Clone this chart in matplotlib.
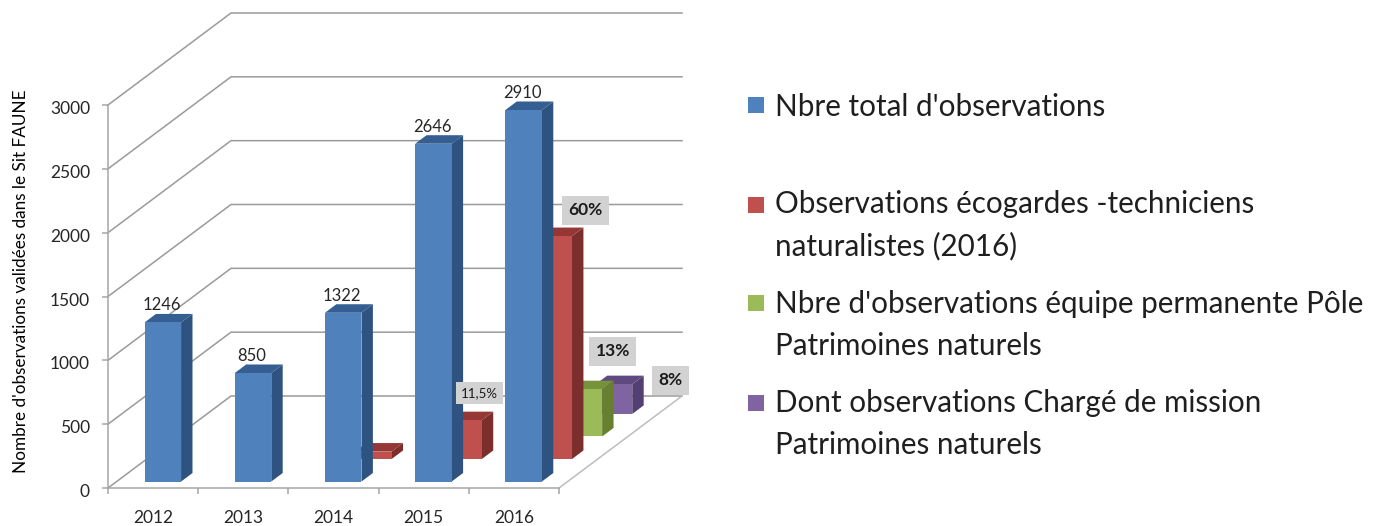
import matplotlib
matplotlib.use('Agg')
import matplotlib.pyplot as plt
from matplotlib.patches import Polygon, Rectangle
from matplotlib.transforms import ScaledTranslation

plt.rcParams['font.family'] = ['Lato', 'DejaVu Sans']

# data
years = ['2012', '2013', '2014', '2015', '2016']
y_ticks = [0, 500, 1000, 1500, 2000, 2500, 3000]
total_obs = [1246, 850, 1322, 2646, 2910]
ecogardes = [0, 0, 58, 304, 1746]
equipe = [0, 0, 0, 0, 370]
charge = [0, 0, 0, 0, 233]
pct_labels = ['11,5%', '60%', '13%', '8%']

# legend text
legend_labels = ["Nbre total d'observations",
                 "Observations écogardes -techniciens\nnaturalistes (2016)",
                 "Nbre d'observations équipe permanente Pôle\nPatrimoines naturels",
                 "Dont observations Chargé de mission\nPatrimoines naturels"]

W, H = 1380, 526
PX_X = 90.2          # pixels per category
PX_Y = 383 / 3000    # pixels per observation
X0, Y0 = 108, 488    # origin of front plane, pixels from top left

# oblique projection of the floor depth (0 front, 1 back)
DEPTH_X = 123 / PX_X
DEPTH_Y = 92 / PX_Y
BAR_W = 0.405
BAR_D = 0.093
ROW_D = 0.245
ROW_START = 0.07
BAR_SHIFT = 0.012
GRID = '#9a9a9a'


def proj(x, d, v):
    return (x + d * DEPTH_X, v + d * DEPTH_Y)


def bar3d(ax, i, row, v, cols):
    x0 = i + (1 - BAR_W) / 2 + BAR_SHIFT
    x1 = x0 + BAR_W
    d0 = ROW_START + row * ROW_D
    d1 = d0 + BAR_D
    front, side, top = cols
    ax.add_patch(Polygon([proj(x1, d0, 0), proj(x1, d1, 0), proj(x1, d1, v), proj(x1, d0, v)],
                         fc=side, ec='none', zorder=3))
    ax.add_patch(Polygon([proj(x0, d0, v), proj(x1, d0, v), proj(x1, d1, v), proj(x0, d1, v)],
                         fc=top, ec='none', zorder=3))
    ax.add_patch(Polygon([proj(x0, d0, 0), proj(x1, d0, 0), proj(x1, d0, v), proj(x0, d0, v)],
                         fc=front, ec='none', zorder=3))


fig = plt.figure(figsize=(W / 100, H / 100), dpi=100)
ax = fig.add_axes([0, 0, 1, 1])
ax.set_xlim(-X0 / PX_X, (W - X0) / PX_X)
ax.set_ylim(-(H - Y0) / PX_Y, Y0 / PX_Y)
ax.patch.set_alpha(0)

# axes
for s in ['top', 'right']:
    ax.spines[s].set_visible(False)
ax.spines['left'].set_position(('data', 0))
ax.spines['bottom'].set_position(('data', 0))
ax.spines['left'].set_bounds(0, 3000)
ax.spines['bottom'].set_bounds(0, 5)
ax.spines['left'].set_color('#a6a6a6')
ax.spines['bottom'].set_color('#a6a6a6')
ax.spines['left'].set_linewidth(1.1)
ax.spines['bottom'].set_linewidth(1.1)
ax.set_yticks(y_ticks)
ax.set_xticks(range(6))
ax.set_xticklabels([])
ax.set_xticks([i + 0.5 for i in range(5)], minor=True)
ax.set_xticklabels(years, minor=True)
ax.tick_params(axis='x', which='major', length=4, width=1.1, color='#a6a6a6')
ax.tick_params(axis='x', which='minor', length=0, pad=15.5, labelsize=12.5, labelcolor='#262626')
ax.tick_params(axis='y', length=4, width=1.1, color='#a6a6a6', pad=9, labelsize=12.5, labelcolor='#262626')
# y labels sit a little under their ticks in the original
nudge = ScaledTranslation(0, -2.5 / 100, fig.dpi_scale_trans)
for lab in ax.get_yticklabels():
    lab.set_transform(lab.get_transform() + nudge)
ax.set_ylabel("Nombre d'observations validées dans le Sit FAUNE", fontsize=12.3, color='#000000')
ax.yaxis.set_label_coords(29 / W, 1 - 281 / H)

# walls
for v in y_ticks:
    ax.plot(*zip(proj(0, 0, v), proj(0, 1, v), proj(5, 1, v)), color=GRID, lw=1.1, zorder=1, solid_joinstyle='miter')
ax.plot(*zip(proj(5, 0, 0), proj(5, 1, 0)), color='#bdbdbd', lw=1.1, zorder=1)

# bars, back row first
blue = ('#4f81bd', '#2f5380', '#355f92')
red = ('#c0504d', '#7c2e2c', '#953735')
green = ('#9bbb59', '#66802f', '#76923c')
purple = ('#8064a2', '#533f72', '#5f4a80')
series = [(charge, purple), (equipe, green), (ecogardes, red), (total_obs, blue)]
for k, (vals, cols) in enumerate(series):
    row = 3 - k
    for i, v in enumerate(vals):
        if v > 0:
            bar3d(ax, i, row, v, cols)

# value labels on the blue bars
for i, v in enumerate(total_obs):
    ax.annotate(str(v), proj(i + 0.5, ROW_START, v), xytext=(0, 17), textcoords='offset pixels',
                ha='center', va='center', fontsize=12, color='#262626', zorder=5)


# percentage boxes
def pct(text, i, row, v, off, size, weight):
    xc = i + 0.5
    ax.annotate(text, proj(xc, ROW_START + row * ROW_D, v), xytext=off, textcoords='offset pixels',
                ha='center', va='center', fontsize=size, fontweight=weight, color='#1a1a1a', zorder=6,
                bbox=dict(boxstyle='square,pad=0.37', fc='#d2d2d2', ec='none'))


pct(pct_labels[0], 3, 1, ecogardes[3], (17, 27), 9.5, 'normal')
pct(pct_labels[1], 4, 1, ecogardes[4], (33, 26), 12.5, 'bold')
pct(pct_labels[2], 4, 2, equipe[4], (30, 38), 12.5, 'bold')
pct(pct_labels[3], 4, 3, charge[4], (58, 4), 12.5, 'bold')

# legend, placed by hand because the rows are unevenly spaced
swatch_cols = [blue[0], red[0], green[0], purple[0]]
swatch_y = [105, 205, 303, 403]
text_y = [107, 225, 325, 424]
for col, sy, ty, lab in zip(swatch_cols, swatch_y, text_y, legend_labels):
    fig.add_artist(Rectangle((748 / W, 1 - (sy + 8) / H), 16 / W, 16 / H, fc=col, ec='none',
                             transform=fig.transFigure))
    fig.text(775 / W, 1 - ty / H, lab, fontsize=21.3, color='#1f1f1f', va='center', ha='left', linespacing=1.58)

fig.savefig('out.png', dpi=100)
